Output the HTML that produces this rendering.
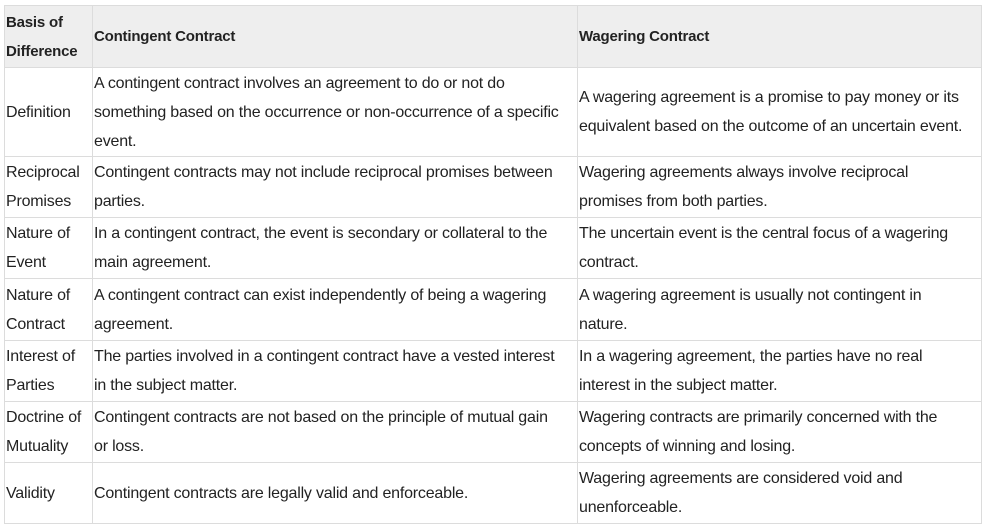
<!DOCTYPE html>
<html><head><meta charset="utf-8"><style>
html,body{margin:0;padding:0;background:#fff;width:983px;height:529px;overflow:hidden}
table{position:absolute;left:4px;top:5px;border-collapse:collapse;table-layout:fixed;font-family:"Liberation Sans",sans-serif;font-size:16px;color:#222;letter-spacing:-0.2px}
td,th{border:1px solid #dcdcdc;padding:0 0 0 1px;line-height:29px;vertical-align:middle;text-align:left;white-space:nowrap;overflow:hidden}
th{background:#eeeeee;font-weight:bold;font-size:15px}
</style></head><body>
<table>
<colgroup><col style="width:88px"><col style="width:485px"><col style="width:404px"></colgroup>
<tr style="height:62px"><th>Basis of<br>Difference</th><th>Contingent Contract</th><th>Wagering Contract</th></tr>
<tr style="height:89px"><td>Definition</td><td>A contingent contract involves an agreement to do or not do<br>something based on the occurrence or non-occurrence of a specific<br>event.</td><td>A wagering agreement is a promise to pay money or its<br>equivalent based on the outcome of an uncertain event.</td></tr>
<tr style="height:61px"><td>Reciprocal<br>Promises</td><td>Contingent contracts may not include reciprocal promises between<br>parties.</td><td>Wagering agreements always involve reciprocal<br>promises from both parties.</td></tr>
<tr style="height:61px"><td>Nature of<br>Event</td><td>In a contingent contract, the event is secondary or collateral to the<br>main agreement.</td><td>The uncertain event is the central focus of a wagering<br>contract.</td></tr>
<tr style="height:62px"><td>Nature of<br>Contract</td><td>A contingent contract can exist independently of being a wagering<br>agreement.</td><td>A wagering agreement is usually not contingent in<br>nature.</td></tr>
<tr style="height:61px"><td>Interest of<br>Parties</td><td>The parties involved in a contingent contract have a vested interest<br>in the subject matter.</td><td>In a wagering agreement, the parties have no real<br>interest in the subject matter.</td></tr>
<tr style="height:61px"><td>Doctrine of<br>Mutuality</td><td>Contingent contracts are not based on the principle of mutual gain<br>or loss.</td><td>Wagering contracts are primarily concerned with the<br>concepts of winning and losing.</td></tr>
<tr style="height:61px"><td>Validity</td><td>Contingent contracts are legally valid and enforceable.</td><td>Wagering agreements are considered void and<br>unenforceable.</td></tr>
</table>
</body></html>
